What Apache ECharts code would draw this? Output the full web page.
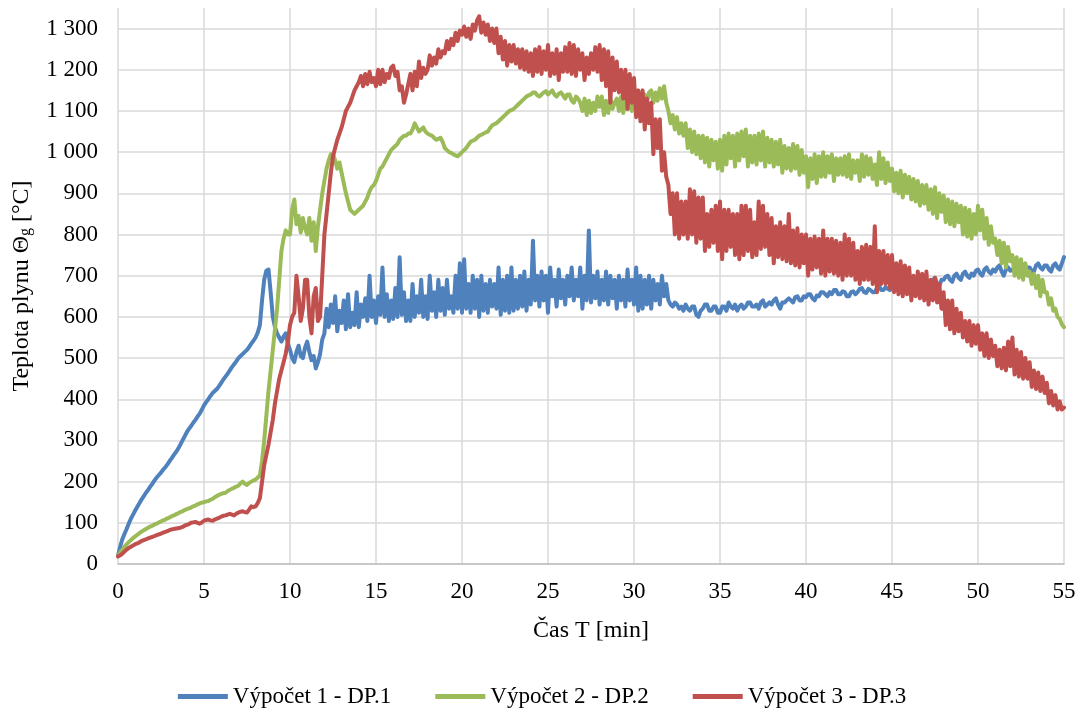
<!DOCTYPE html>
<html>
<head>
<meta charset="utf-8">
<script src="https://cdn.jsdelivr.net/npm/echarts@6/dist/echarts.min.js"></script>
<style>
html,body{margin:0;padding:0;background:#fff;}
#chart{width:1084px;height:715px;}
</style>
</head>
<body>
<div id="chart"></div>
<script>
// time step between samples [min] (8 samples per minute, 0 .. 55 min)
const timeStep = 0.125;
const seriesNames = ['Výpočet 1 - DP.1', 'Výpočet 2 - DP.2', 'Výpočet 3 - DP.3'];
const xTicks = [0, 5, 10, 15, 20, 25, 30, 35, 40, 45, 50, 55];
const yTicks = [0, 100, 200, 300, 400, 500, 600, 700, 800, 900, 1000, 1100, 1200, 1300];

// Výpočet 1 - DP.1  (one row = one minute)
const dp1 = [
  20,42,60,73,85,98,110,120,
  130,139,148,157,165,173,180,188,
  195,203,210,216,222,229,235,242,
  250,257,265,272,280,290,300,310,
  320,328,335,343,350,358,365,375,
  385,393,400,408,415,420,425,432,
  440,448,455,462,470,478,485,492,
  500,505,510,515,520,527,535,542,
  550,562,580,640,690,712,715,660,
  600,575,560,550,540,552,560,535,
  520,500,490,515,530,505,500,525,
  540,515,495,505,475,490,510,545,
  560,620,575,630,585,650,565,615,
  585,640,570,655,575,610,580,660,
  575,630,600,645,590,700,600,640,
  585,650,605,720,600,655,590,640,
  595,670,600,745,605,660,590,640,
  590,680,600,650,610,690,600,650,
  595,700,615,660,600,690,615,670,
  605,690,620,650,610,700,620,730,
  610,740,620,680,610,700,620,690,
  600,700,615,680,610,690,625,680,
  620,720,605,690,615,700,610,720,
  615,690,620,700,625,710,615,690,
  630,785,640,700,625,710,640,700,
  610,720,650,690,625,715,645,690,
  630,700,650,720,640,690,650,720,
  620,700,640,810,635,700,645,710,
  630,690,640,710,630,700,645,690,
  620,700,640,690,625,715,640,690,
  630,720,615,700,620,690,630,700,
  620,690,640,680,630,700,650,680,
  640,630,625,635,630,620,625,615,
  630,620,615,625,625,605,600,615,
  620,630,630,615,615,625,625,610,
  610,625,625,615,635,625,620,630,
  615,625,630,620,625,635,635,625,
  625,630,620,635,640,625,630,635,
  630,640,645,630,620,635,635,640,
  645,640,635,648,650,640,640,650,
  648,655,655,645,640,652,650,660,
  660,655,650,660,655,665,665,655,
  655,662,660,650,650,660,662,655,
  660,668,670,660,658,668,665,660,
  660,670,675,665,665,672,668,665,
  670,680,690,670,660,670,675,685,
  665,675,680,668,670,685,690,680,
  680,675,670,690,695,680,675,690,
  690,698,700,690,685,700,705,695,
  690,705,710,700,695,705,700,712,
  715,705,700,715,720,710,705,715,
  710,720,725,710,700,715,720,712,
  715,710,705,720,725,715,710,720,
  720,712,710,725,730,720,715,725,
  725,715,710,725,730,720,715,730,
  745
];

// Výpočet 2 - DP.2
const dp2 = [
  20,28,35,42,48,53,58,63,
  67,71,75,79,82,85,88,91,
  93,96,98,101,103,106,108,111,
  113,116,118,121,123,126,128,131,
  133,135,137,140,142,145,147,149,
  150,152,153,156,158,162,165,168,
  170,172,173,177,180,183,185,188,
  190,196,200,195,192,197,200,203,
  205,210,215,250,300,360,420,470,
  520,570,620,690,760,790,810,800,
  800,860,885,825,845,805,840,815,
  800,840,785,830,760,820,860,900,
  930,960,980,995,995,980,960,975,
  950,925,900,880,860,855,850,855,
  860,865,870,880,890,905,915,920,
  930,945,960,965,975,985,995,1005,
  1010,1015,1020,1030,1035,1040,1040,1045,
  1045,1055,1070,1060,1050,1055,1060,1050,
  1045,1042,1040,1035,1030,1032,1035,1025,
  1010,1005,1000,998,995,992,990,995,
  1000,1005,1010,1018,1025,1028,1030,1035,
  1040,1042,1045,1048,1050,1058,1065,1068,
  1070,1075,1080,1085,1090,1095,1100,1102,
  1105,1110,1115,1120,1125,1130,1135,1138,
  1140,1145,1145,1138,1135,1140,1145,1148,
  1140,1145,1150,1140,1135,1142,1145,1138,
  1130,1140,1140,1125,1120,1135,1130,1120,
  1100,1130,1090,1125,1095,1120,1100,1135,
  1110,1135,1090,1125,1095,1130,1105,1120,
  1130,1100,1135,1095,1130,1105,1125,1100,
  1125,1140,1110,1135,1115,1140,1120,1145,
  1150,1120,1145,1125,1155,1130,1160,1120,
  1100,1070,1090,1055,1085,1045,1070,1040,
  1070,1010,1055,1000,1050,995,1040,985,
  1040,975,1035,965,1030,980,1025,960,
  1030,955,1040,970,1045,985,1040,965,
  1045,980,1050,990,1055,965,1040,975,
  1040,970,1045,980,1050,965,1035,975,
  1030,965,1025,970,1030,950,1015,960,
  1010,955,1020,960,1015,945,1005,950,
  990,915,985,935,995,925,990,940,
  1000,940,990,950,995,930,985,945,
  985,945,990,940,995,935,980,950,
  980,930,995,940,990,945,985,935,
  970,920,1000,935,985,925,975,930,
  960,905,950,900,955,890,945,900,
  940,885,935,880,930,870,920,875,
  920,860,910,850,915,840,900,855,
  895,830,885,825,880,820,875,830,
  870,800,865,795,860,790,850,800,
  870,810,860,790,840,775,820,780,
  790,750,785,730,780,720,770,735,
  750,700,745,695,740,690,730,700,
  710,680,705,670,700,650,690,660,
  660,630,645,615,620,600,595,582,
  575
];

// Výpočet 3 - DP.3
const dp3 = [
  18,21,25,30,35,39,42,45,
  48,50,53,56,58,60,62,64,
  66,68,70,72,74,76,78,80,
  82,84,85,86,87,88,90,93,
  95,97,100,101,102,100,98,101,
  105,107,108,106,105,108,110,112,
  115,117,118,120,122,120,118,122,
  125,127,128,126,125,132,140,138,
  140,148,160,200,240,265,290,320,
  350,390,420,450,470,490,510,540,
  580,600,610,700,650,590,620,690,
  690,600,560,650,670,590,600,700,
  800,850,900,950,990,1010,1030,1045,
  1060,1080,1100,1110,1120,1135,1150,1160,
  1170,1185,1160,1190,1165,1195,1170,1180,
  1160,1200,1165,1200,1170,1190,1180,1205,
  1210,1185,1195,1150,1160,1120,1140,1165,
  1190,1150,1195,1160,1220,1180,1205,1190,
  1200,1235,1210,1230,1215,1250,1230,1245,
  1240,1270,1250,1275,1260,1290,1270,1295,
  1285,1305,1280,1300,1275,1310,1295,1320,
  1330,1290,1315,1285,1310,1270,1300,1265,
  1300,1240,1280,1225,1270,1210,1260,1220,
  1260,1215,1250,1205,1250,1200,1245,1195,
  1240,1185,1250,1195,1255,1190,1245,1200,
  1260,1185,1240,1190,1250,1175,1240,1195,
  1255,1195,1265,1190,1260,1185,1250,1200,
  1240,1175,1230,1190,1240,1200,1255,1195,
  1260,1175,1250,1160,1245,1120,1230,1150,
  1220,1145,1200,1130,1200,1105,1190,1120,
  1180,1085,1150,1075,1150,1055,1130,1070,
  1120,995,1080,1010,1080,955,1000,940,
  920,850,900,800,900,790,880,800,
  880,790,910,800,905,780,890,790,
  890,760,850,770,860,780,870,760,
  880,740,860,760,860,770,850,750,
  850,740,870,750,870,760,860,745,
  830,750,880,765,870,770,850,750,
  840,730,820,745,830,740,820,735,
  850,730,810,725,815,720,800,730,
  800,700,790,715,795,720,790,705,
  810,700,790,710,790,705,785,700,
  780,690,800,700,790,700,780,690,
  760,680,770,690,775,690,770,680,
  820,660,760,680,760,680,750,670,
  750,660,730,655,735,650,725,655,
  720,640,700,650,710,645,705,640,
  710,630,690,640,695,635,680,620,
  660,580,640,570,640,560,620,565,
  610,550,590,540,590,530,580,535,
  580,520,560,505,560,500,545,505,
  530,480,520,475,525,470,540,480,
  550,460,520,455,515,450,500,450,
  490,430,470,425,465,420,455,415,
  440,390,420,385,410,375,395,375,
  380
];

const colors = ['#4F81BD', '#9BBB59', '#C0504D'];
const FONT = '"Liberation Serif", "Times New Roman", serif';

function toPairs(arr) {
  return arr.map((v, i) => [i * timeStep, v]);
}
function fmtThousands(v) {
  const s = String(Math.round(v));
  return s.replace(/\B(?=(\d{3})+(?!\d))/g, ' ');
}

const chart = echarts.init(document.getElementById('chart'), null, { renderer: 'canvas' });
const allSeries = [dp1, dp2, dp3];

chart.setOption({
  animation: false,
  backgroundColor: '#ffffff',
  color: colors,
  grid: { left: 118, right: 20, top: 8, bottom: 151, containLabel: false },
  legend: {
    data: seriesNames,
    left: 'center',
    top: 680,
    icon: 'rect',
    itemWidth: 50,
    itemHeight: 5,
    itemGap: 44,
    textStyle: { fontFamily: FONT, fontSize: 23, color: '#000', padding: [0, 0, 0, 0] }
  },
  xAxis: {
    type: 'value',
    min: xTicks[0],
    max: xTicks[xTicks.length - 1],
    interval: 5,
    name: 'Čas T [min]',
    nameLocation: 'middle',
    nameGap: 55,
    nameTextStyle: { fontFamily: FONT, fontSize: 24, color: '#000' },
    axisLine: { show: true, lineStyle: { color: '#bfbfbf', width: 1.5 } },
    axisTick: { show: false },
    axisLabel: { fontFamily: FONT, fontSize: 23, color: '#000', margin: 16 },
    splitLine: { show: true, lineStyle: { color: '#d9d9d9', width: 1.5 } }
  },
  yAxis: {
    type: 'value',
    min: yTicks[0],
    max: 1350,
    interval: 100,
    name: '{n|Teplota plynu Θ}{s|g}{n| [°C]}',
    nameLocation: 'middle',
    nameGap: 84,
    nameTextStyle: {
      fontFamily: FONT, fontSize: 24, color: '#000',
      rich: {
        n: { fontFamily: FONT, fontSize: 24, color: '#000' },
        s: { fontFamily: FONT, fontSize: 16, color: '#000', verticalAlign: 'bottom', padding: [8, 0, 0, 0] }
      }
    },
    axisLine: { show: false },
    axisTick: { show: false },
    axisLabel: {
      fontFamily: FONT, fontSize: 23, color: '#000', margin: 20,
      showMaxLabel: false,
      formatter: function (v) { return yTicks.indexOf(v) >= 0 ? fmtThousands(v) : ''; }
    },
    splitLine: { show: true, showMaxLine: false, lineStyle: { color: '#d9d9d9', width: 1.5 } }
  },
  series: allSeries.map((arr, k) => ({
    name: seriesNames[k],
    type: 'line',
    data: toPairs(arr),
    showSymbol: false,
    symbol: 'none',
    lineStyle: { width: 4, color: colors[k], join: 'round', cap: 'round' },
    itemStyle: { color: colors[k] },
    emphasis: { disabled: true }
  }))
});
</script>
</body>
</html>
